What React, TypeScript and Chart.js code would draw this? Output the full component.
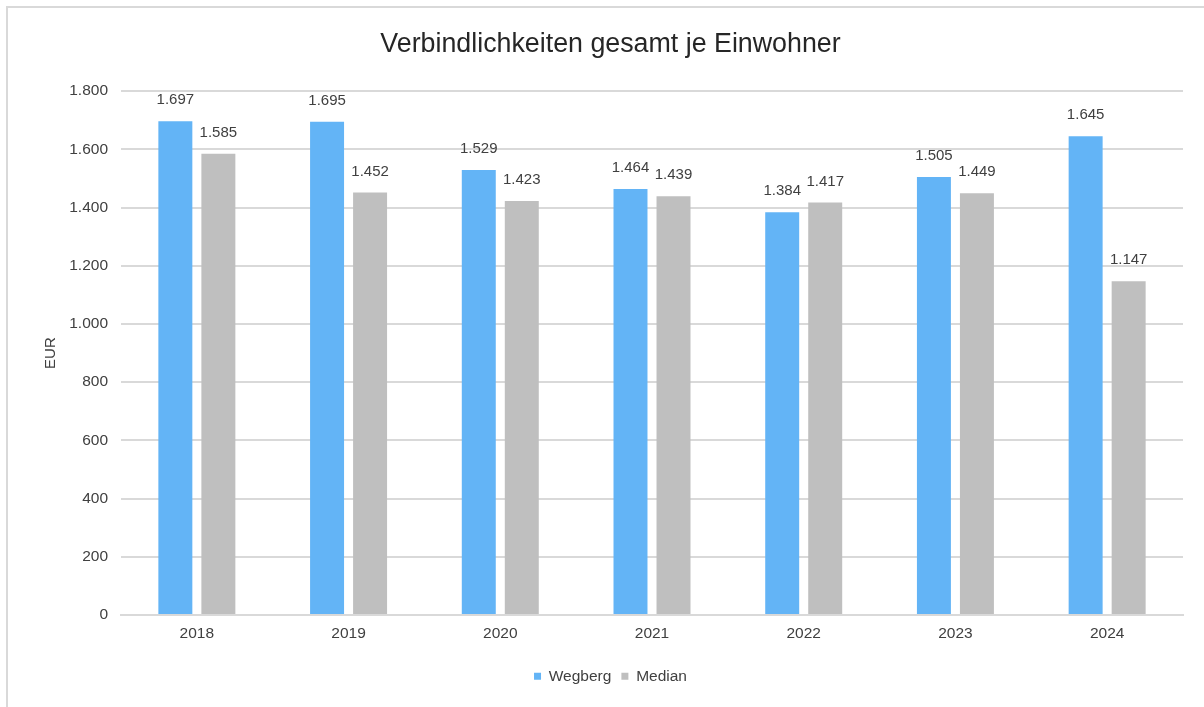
import React, { useEffect, useRef } from "react";
import { Chart, registerables } from "chart.js";

Chart.register(...registerables);

const categories = ["2018", "2019", "2020", "2021", "2022", "2023", "2024"];
const wegbergValues = [1697, 1695, 1529, 1464, 1384, 1505, 1645];
const medianValues = [1585, 1452, 1423, 1439, 1417, 1449, 1147];
const seriesNames = ["Wegberg", "Median"];
const chartTitle = "Verbindlichkeiten gesamt je Einwohner";
const yAxisTitle = "EUR";

const FONT = "'Liberation Sans', Arial, sans-serif";

function fmt(v: number): string {
  return String(Math.round(v)).replace(/\B(?=(\d{3})+(?!\d))/g, ".");
}

const dataLabelPlugin = {
  id: "dataLabels",
  afterDatasetsDraw(chart: any) {
    const ctx = chart.ctx;
    ctx.save();
    ctx.font = `15px ${FONT}`;
    ctx.fillStyle = "#404040";
    ctx.textAlign = "center";
    ctx.textBaseline = "middle";
    chart.data.datasets.forEach((ds: any, i: number) => {
      const meta = chart.getDatasetMeta(i);
      meta.data.forEach((bar: any, j: number) => {
        ctx.fillText(fmt(ds.data[j]), bar.x, bar.y - 21);
      });
    });
    ctx.restore();
  },
};

export default function App() {
  const ref = useRef<HTMLCanvasElement | null>(null);

  useEffect(() => {
    document.body.style.margin = "0";
    if (!ref.current) return;
    const chart = new Chart(ref.current, {
      type: "bar",
      data: {
        labels: categories,
        datasets: [
          {
            label: seriesNames[0],
            data: wegbergValues,
            backgroundColor: "#63B4F6",
            categoryPercentage: 0.567,
            barPercentage: 0.79,
          },
          {
            label: seriesNames[1],
            data: medianValues,
            backgroundColor: "#BFBFBF",
            categoryPercentage: 0.567,
            barPercentage: 0.79,
          },
        ],
      },
      options: {
        animation: false,
        responsive: false,
        maintainAspectRatio: false,
        layout: { padding: { left: 38, right: 21, top: 0, bottom: 13 } },
        plugins: {
          title: {
            display: true,
            text: chartTitle,
            color: "#262626",
            font: { family: FONT, size: 26.8, weight: "normal" },
            padding: { top: 29, bottom: 30 },
          },
          legend: {
            position: "bottom",
            labels: {
              boxWidth: 7,
              boxHeight: 7,
              padding: 10,
              color: "#404040",
              font: { family: FONT, size: 15.5 },
            },
          },
          tooltip: { enabled: false },
        },
        scales: {
          x: {
            grid: { display: false, drawTicks: false },
            border: { display: true, color: "#d9d9d9", width: 2 },
            ticks: {
              color: "#404040",
              font: { family: FONT, size: 15.5 },
              padding: 9,
            },
            afterFit(scale: any) {
              scale.height = 43.5;
            },
          },
          y: {
            min: 0,
            max: 1800,
            ticks: {
              stepSize: 200,
              color: "#404040",
              font: { family: FONT, size: 15.5 },
              padding: 13,
              callback: (v: any) => fmt(Number(v)),
            },
            grid: { color: "#d9d9d9", lineWidth: 2, drawTicks: false },
            border: { display: false },
            title: {
              display: true,
              text: yAxisTitle,
              color: "#404040",
              font: { family: FONT, size: 15 },
              padding: { top: 4, bottom: 4 },
            },
            afterFit(scale: any) {
              scale.width = 83;
            },
          },
        },
      },
      plugins: [dataLabelPlugin],
    });
    return () => chart.destroy();
  }, []);

  return (
    <div style={{ position: "relative", width: 1204, height: 707, background: "#fff" }}>
      <div
        style={{
          position: "absolute",
          left: 6,
          top: 6,
          width: 1198,
          height: 701,
          borderLeft: "2px solid #d9d9d9",
          borderTop: "2px solid #d9d9d9",
          boxSizing: "border-box",
        }}
      />
      <canvas
        ref={ref}
        width={1204}
        height={707}
        style={{ position: "absolute", left: 0, top: 0, width: 1204, height: 707 }}
      />
    </div>
  );
}
